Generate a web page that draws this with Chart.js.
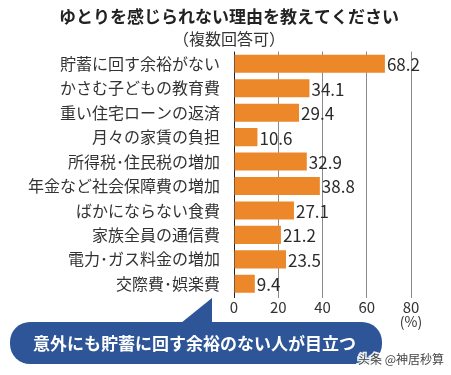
<!DOCTYPE html>
<html lang="ja">
<head>
<meta charset="utf-8">
<title>ゆとりを感じられない理由</title>
<script src="https://cdn.jsdelivr.net/npm/chart.js@4/dist/chart.umd.min.js"></script>
<style>
  html, body { margin: 0; padding: 0; background: #fff; }
  canvas { display: block; }
</style>
</head>
<body>
<canvas id="chartYutori" width="451" height="375"></canvas>
<script>
const JP_FONT = '"Noto Sans CJK JP", "Noto Sans", sans-serif';

const categories = [
  '貯蓄に回す余裕がない',
  'かさむ子どもの教育費',
  '重い住宅ローンの返済',
  '月々の家賃の負担',
  '所得税･住民税の増加',
  '年金など社会保障費の増加',
  'ばかにならない食費',
  '家族全員の通信費',
  '電力･ガス料金の増加',
  '交際費･娯楽費',
];
const values = [68.2, 34.1, 29.4, 10.6, 32.9, 38.8, 27.1, 21.2, 23.5, 9.4];
const xTicks = [0, 20, 40, 60, 80];

const titleText = 'ゆとりを感じられない理由を教えてください';
const subtitleText = '（複数回答可）';
const unitText = '(%)';
const calloutText = '意外にも貯蓄に回す余裕のない人が目立つ';
const creditText = '头条 @神居秒算';

const BAR_COLOR = '#EC872A';
const CALLOUT_COLOR = '#2D5597';

// value labels at the end of each bar
const valueLabels = {
  id: 'valueLabels',
  afterDatasetsDraw(chart) {
    const { ctx } = chart;
    const meta = chart.getDatasetMeta(0);
    ctx.save();
    ctx.font = `17px ${JP_FONT}`;
    ctx.fillStyle = '#2b2b2b';
    ctx.textAlign = 'left';
    ctx.textBaseline = 'middle';
    meta.data.forEach((bar, i) => {
      ctx.fillText(values[i].toFixed(1), bar.x + 2, bar.y + 1);
    });
    ctx.restore();
  },
};

// unit, speech bubble and credit line
const extras = {
  id: 'extras',
  afterDraw(chart) {
    const { ctx } = chart;
    const x = chart.scales.x;
    ctx.save();

    ctx.font = `14px ${JP_FONT}`;
    ctx.fillStyle = '#333';
    ctx.textAlign = 'center';
    ctx.textBaseline = 'middle';
    ctx.fillText(unitText, x.getPixelForValue(80), 322);

    // bubble
    ctx.fillStyle = CALLOUT_COLOR;
    ctx.beginPath();
    ctx.roundRect(10, 322, 372, 42, 20);
    ctx.fill();
    ctx.beginPath();
    ctx.moveTo(181, 323);
    ctx.lineTo(212, 298);
    ctx.lineTo(212, 323);
    ctx.closePath();
    ctx.fill();

    ctx.font = `bold 17px ${JP_FONT}`;
    ctx.fillStyle = '#fff';
    ctx.textAlign = 'left';
    ctx.fillText(calloutText, 33, 344);

    ctx.font = `12px "Noto Sans CJK SC", sans-serif`;
    ctx.lineWidth = 3;
    ctx.strokeStyle = 'rgba(255,255,255,0.9)';
    ctx.strokeText(creditText, 358, 359);
    ctx.fillStyle = '#444';
    ctx.fillText(creditText, 358, 359);
    ctx.restore();
  },
};

new Chart(document.getElementById('chartYutori').getContext('2d'), {
  type: 'bar',
  data: {
    labels: categories,
    datasets: [{
      data: values,
      backgroundColor: BAR_COLOR,
      barPercentage: 0.74,
      categoryPercentage: 1,
    }],
  },
  options: {
    responsive: false,
    animation: false,
    indexAxis: 'y',
    layout: { padding: { top: 0, right: 0, bottom: 0, left: 7 } },
    scales: {
      x: {
        min: 0,
        max: 80,
        afterFit(scale) { scale.height = 79; },
        afterBuildTicks(scale) { scale.ticks = xTicks.map((v) => ({ value: v })); },
        grid: {
          color: (c) => (c.tick && c.tick.value === 0 ? '#222' : '#8a8a8a'),
          lineWidth: 1,
          tickLength: 2,
        },
        border: { display: false },
        ticks: {
          font: { family: JP_FONT, size: 15 },
          color: '#333',
          padding: 0,
        },
      },
      y: {
        afterFit(scale) { scale.width = 227; },
        grid: { display: false },
        border: { display: false },
        ticks: {
          font: { family: JP_FONT, size: 16 },
          color: '#333',
          padding: 6,
        },
      },
      // empty right-hand axis that keeps room for the value labels
      yRight: {
        type: 'category',
        position: 'right',
        afterFit(scale) { scale.width = 40; },
        grid: { display: false },
        border: { display: false },
        ticks: { display: false },
      },
    },
    plugins: {
      legend: { display: false },
      tooltip: { enabled: false },
      title: {
        display: true,
        text: titleText,
        color: '#222',
        font: { family: JP_FONT, size: 17, weight: 'bold' },
        padding: { top: 6, bottom: 1 },
      },
      subtitle: {
        display: true,
        text: subtitleText,
        color: '#333',
        font: { family: JP_FONT, size: 16 },
        padding: { top: 2, bottom: 3 },
      },
    },
  },
  plugins: [valueLabels, extras],
});
</script>
</body>
</html>
